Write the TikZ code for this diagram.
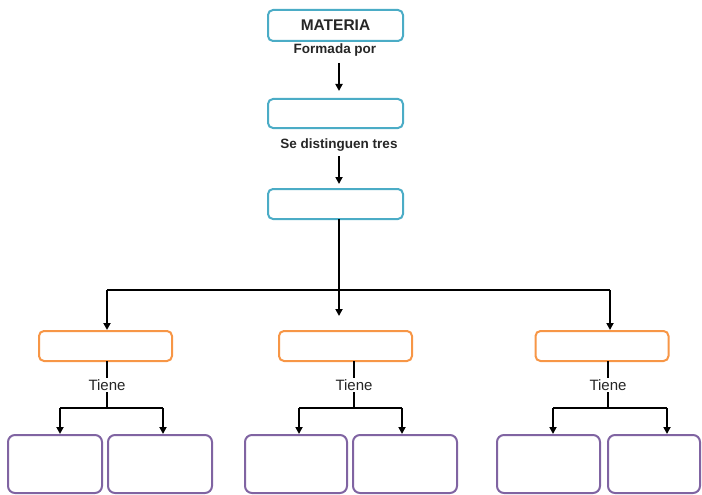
\documentclass[tikz,border=0pt]{standalone}
\usepackage{fontspec}
\setmainfont{Liberation Sans}
\usetikzlibrary{arrows.meta}
\definecolor{tealc}{HTML}{4BACC6}
\definecolor{orangec}{HTML}{F79646}
\definecolor{purplec}{HTML}{8064A2}
\definecolor{txt}{HTML}{262626}
\begin{document}
\begin{tikzpicture}[x=1pt,y=1pt,
  tbox/.style={draw=tealc,line width=2pt,rounded corners=5pt,fill=white,minimum width=135pt,inner sep=0pt,text=txt},
  obox/.style={draw=orangec,line width=2pt,rounded corners=5pt,fill=white,minimum width=133pt,minimum height=30pt,inner sep=0pt},
  pbox/.style={draw=purplec,line width=2pt,rounded corners=7pt,fill=white,minimum height=58pt,inner sep=0pt},
  lbl/.style={font=\fontsize{13.5}{15}\selectfont\bfseries,inner sep=1pt,text=txt},
  tlbl/.style={font=\fontsize{15}{16}\selectfont,inner sep=1pt,fill=white,text=txt},
  conn/.style={line width=1.8pt,black},
  arr/.style={conn,-{Triangle[length=7pt,width=7pt]}}]
\useasboundingbox (0,0) rectangle (702,-495);
% top teal boxes
\node[tbox,minimum height=31pt,font=\fontsize{15.5}{17}\selectfont\bfseries] (m) at (335.5,-25.5) {MATERIA};
\node[lbl] (f) at (335,-50) {Formada por};
\node[tbox,minimum height=29pt] (b2) at (335.5,-113.5) {};
\node[lbl] (s) at (339,-145) {Se distinguen tres};
\node[tbox,minimum height=30pt] (b3) at (335.5,-204) {};
\coordinate (a1s) at (339,-63);
\coordinate (a1e) at (339,-91);
\coordinate (a2s) at (339,-156);
\coordinate (a2e) at (339,-184);
\draw[arr] (a1s) -- (a1e);
\draw[arr] (a2s) -- (a2e);
% distribution
\coordinate (b3b) at (339,-219);
\coordinate (j) at (339,-290);
\coordinate (jl) at (107,-290);
\coordinate (jr) at (610,-290);
\node[obox] (o1) at (105.5,-346) {};
\node[obox] (o2) at (345.5,-346) {};
\node[obox] (o3) at (602,-346) {};
\coordinate (o1t) at (107,-330);
\coordinate (o2t) at (339,-316);
\coordinate (o3t) at (610,-330);
\draw[conn] (b3b) -- (j);
\draw[conn] (jl) -- (jr);
\draw[arr] (jl) -- (o1t);
\draw[arr] (j) -- (o2t);
\draw[arr] (jr) -- (o3t);
% purple boxes
\node[pbox,minimum width=94pt] (p1) at (55,-464) {};
\node[pbox,minimum width=104pt] (p2) at (160,-464) {};
\node[pbox,minimum width=102pt] (p3) at (296,-464) {};
\node[pbox,minimum width=104pt] (p4) at (405,-464) {};
\node[pbox,minimum width=103pt] (p5) at (548.5,-464) {};
\node[pbox,minimum width=92pt] (p6) at (654,-464) {};
% Tiene groups
\foreach \i/\x/\l/\r in {1/107/60/163, 2/354/299/402, 3/608/553/667}{
  \coordinate (ob\i) at (\x,-361);
  \coordinate (h\i) at (\x,-408);
  \coordinate (hl\i) at (\l,-408);
  \coordinate (hr\i) at (\r,-408);
  \coordinate (pl\i) at (\l,-434);
  \coordinate (pr\i) at (\r,-434);
  \draw[conn] (ob\i) -- (h\i);
  \node[tlbl] (t\i) at (\x,-385) {Tiene};
  \draw[conn] (hl\i) -- (hr\i);
  \draw[arr] (hl\i) -- (pl\i);
  \draw[arr] (hr\i) -- (pr\i);
}
\end{tikzpicture}
\end{document}
